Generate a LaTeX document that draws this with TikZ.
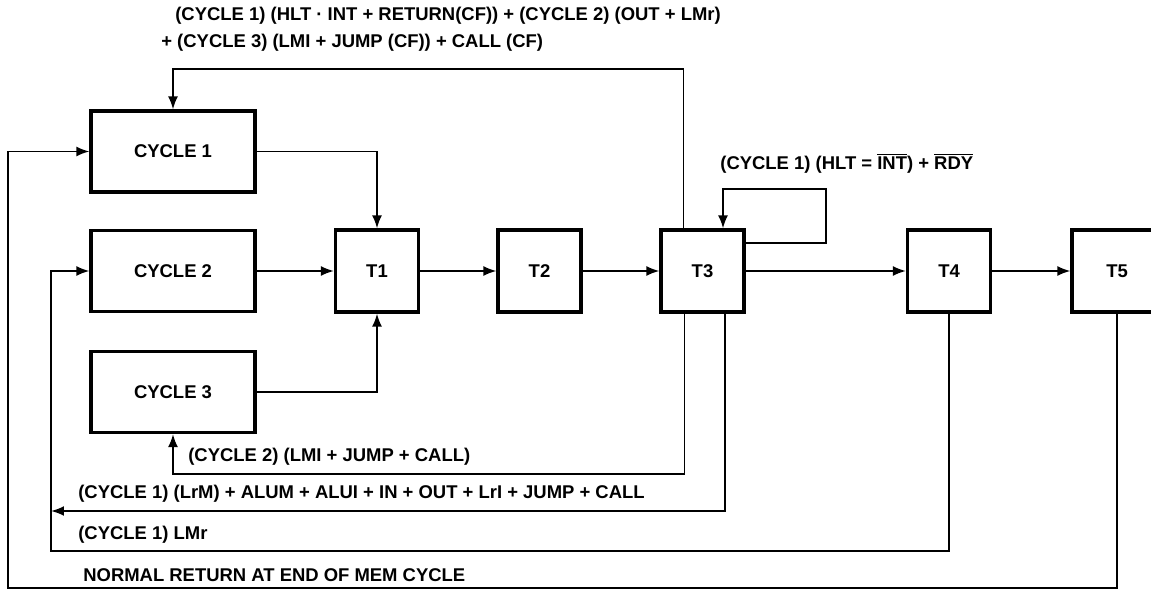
\documentclass[tikz,border=0pt]{standalone}
\usepackage{fontspec}
\setmainfont{Liberation Sans}
\usepackage{tikz}
\usetikzlibrary{arrows.meta,positioning,calc}
\tikzset{
  box/.style={draw, line width=1.8pt, align=center, font=\bfseries\fontsize{10.5}{12}\selectfont, inner sep=0pt},
  cyc/.style={box, minimum width=3.28cm, minimum height=1.62cm},
  tst/.style={box, minimum width=1.66cm, minimum height=1.64cm},
  ar/.style={-{Latex[length=2.6mm,width=2mm]}, line width=1.1pt},
  lbl/.style={font=\bfseries\fontsize{10.5}{12}\selectfont, inner sep=0pt, anchor=west},
}

\begin{document}
\begin{tikzpicture}[x=0.02cm, y=-0.02cm]
\useasboundingbox (0,0) rectangle (1151,590);
\clip (0,0) rectangle (1151,590);
\node[cyc] (c1) at (173,151.5) {CYCLE 1};
\node[cyc] (c2) at (173,271) {CYCLE 2};
\node[cyc] (c3) at (173,392) {CYCLE 3};
\node[tst] (t1) at (377,271) {T1};
\node[tst] (t2) at (539.5,271) {T2};
\node[tst] (t3) at (702.5,271) {T3};
\node[tst] (t4) at (949,271) {T4};
\node[tst, minimum width=1.8cm] (t5) at (1117,271) {T5};
\coordinate (loop) at (826,189);
\coordinate (rtwo) at (51,511);
\coordinate (rone) at (51,551);
\coordinate (rzero) at (8,588);
\draw[ar] (c1.east) -| (t1.north);
\draw[ar] (c2) -- (t1);
\draw[ar] (c3.east) -| (t1.south);
\draw[ar] (t1) -- (t2);
\draw[ar] (t2) -- (t3);
\draw[ar] (t3) -- (t4);
\draw[ar] (t4) -- (t5);
\draw[ar] ($(t3.north)+(-19,0)$) -- ++(0,-159) -| (c1.north);
\draw[ar] ($(t3.east)+(0,-28)$) -| (loop) -| ($(t3.north)+(20.5,0)$);
\draw[ar] ($(t3.south)+(-18,0)$) -- ++(0,160) -| (c3.south);
\draw[ar] ($(t3.south)+(22.5,0)$) |- (rtwo);
\draw[ar] (t4.south) |- (rone) |- (c2.west);
\draw[ar] (t5.south) |- (rzero) |- (c1.west);
\node[lbl] (ttl1) at (175,16) {(CYCLE 1) (HLT · INT + RETURN(CF)) + (CYCLE 2) (OUT + LMr)};
\node[lbl] (ttl2) at (161,43) {+ (CYCLE 3) (LMI + JUMP (CF)) + CALL (CF)};
\node[lbl] (lloop) at (720,163) {(CYCLE 1) (HLT = $\overline{\mbox{INT}}$) + $\overline{\mbox{RDY}}$};
\node[lbl] (lc2) at (188,457) {(CYCLE 2) (LMI + JUMP + CALL)};
\node[lbl] (lalu) at (78,494) {(CYCLE 1) (LrM) + ALUM + ALUI + IN + OUT + LrI + JUMP + CALL};
\node[lbl] (llmr) at (78,535) {(CYCLE 1) LMr};
\node[lbl] (lnorm) at (83,575) {NORMAL RETURN AT END OF MEM CYCLE};
\end{tikzpicture}
\end{document}
